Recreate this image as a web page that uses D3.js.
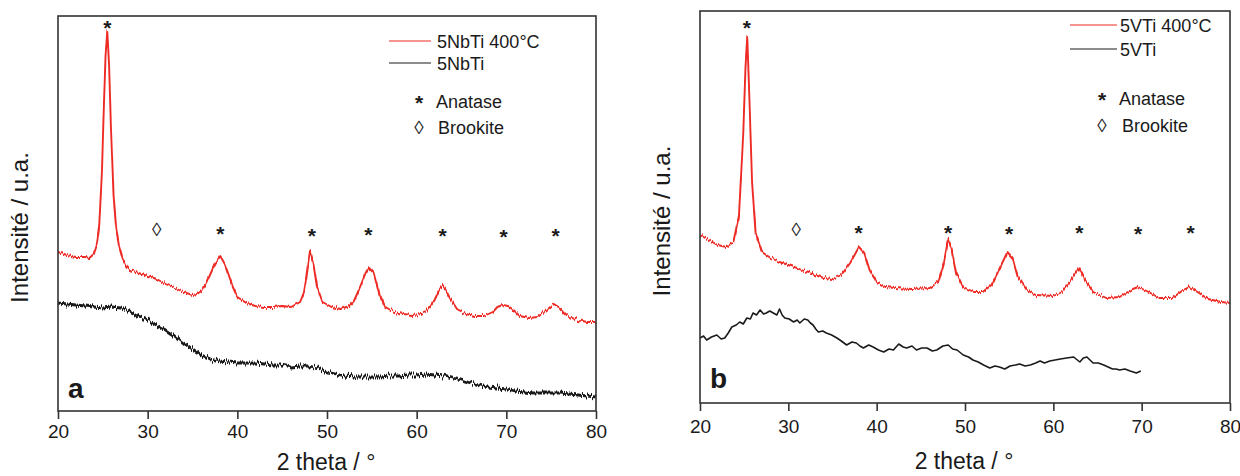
<!DOCTYPE html>
<html><head><meta charset="utf-8">
<script src="https://cdn.jsdelivr.net/npm/d3@7"></script>
<style>
body{margin:0;background:#fff}
text{font-family:"Liberation Sans",Arial,Helvetica,sans-serif;fill:#1a1a1a}
</style>
</head><body>
<svg id="c" width="1240" height="476"></svg>
<script>
// ---- data (2 theta in degrees, intensity in arbitrary units) ----
const xTicks = [20, 30, 40, 50, 60, 70, 80];

// panel a : 5NbTi 400°C (red)
const aRedX = [20,21,22,23,23.5,24,24.3,24.6,24.9,25.1,25.3,25.5,25.7,25.9,26.2,26.5,26.8,27.2,27.6,28,29,30,31,32,33,34,35,35.5,36,36.5,37,37.5,38.1,38.6,39,39.5,40,41,42,43,44,45,46,47,47.4,47.7,48.1,48.5,48.9,49.5,50.5,51.5,52.5,53,53.5,54,54.3,54.7,55.2,55.5,55.8,56.5,57.5,58.5,59.5,60.5,61,61.5,62,62.5,62.9,63.3,63.7,64.5,65.5,66.5,67.5,68.5,69,69.6,70.2,70.8,71.5,72.5,73.5,74.5,75.3,76,76.5,77,78,79,80];
const aRedY = [159,156,154,154,153,157,165,185,240,300,355,380,345,285,215,182,165,152,145,141,138,135,132,127,123,119,116,117,120,127,137,147,155,147,137,124,114,108,105,104,104,105,104,109,118,134,160,147,124,109,104,102,105,110,120,131,138,144,139,129,118,104,99,97,96,97,99,104,111,121,126,120,113,102,97,95,95,99,104,106,105,101,95,93,94,101,107,103,98,94,91,89,89];

// panel a : 5NbTi (black)
const aBlkX = [20,21,22,23,24,25,26,27,28,29,30,31,32,33,34,35,36,37,38,39,40,41,42,43,44,45,46,47,48,49,50,51,52,53,54,55,56,57,58,59,60,61,62,63,64,65,66,67,68,69,70,71,72,73,74,75,76,77,78,79,80];
const aBlkY = [108,107,106,105,104,103,104,103,100,95,91,86,81,75,68,62,56,52,50,49,48,48,48,47,46,46,44,45,45,43,39,37,35,34,34,34,34,35,35,36,36,37,36,35,33,31,28,26,24,23,22,20,19,18,18,18,18,17,16,15,14];

// panel b : 5VTi 400°C (red)
const bRedX = [20,21,22,23,23.8,24.4,24.9,25.15,25.35,25.6,25.9,26.3,27,28,29,30,31,32,33,34,35,36,37,38,38.6,39.2,40,41,42,44,46,47,47.6,48.1,48.5,49,49.8,51,52,53,54,54.8,55.4,56,57,58,60,61,62,62.9,63.6,64.5,66,67.5,69,69.6,70.8,72,73.5,74.7,75.4,76.5,77.5,79,80];
const bRedY = [168,163,158,156,161,186,270,336,366,303,220,170,151,145,141,138,135,131,128,125,124,128,140,156,150,133,121,116,115,114,115,121,140,164,153,130,116,111,111,118,136,151,145,126,113,108,107,111,123,135,123,111,105,106,114,116,111,105,105,113,116,110,104,101,100];

// panel b : 5VTi (black)
const bBlkX = [20,20.4,20.75,21.3,21.9,22.4,22.8,23.2,23.6,24.1,24.5,24.9,25.3,25.7,26.0,26.4,26.8,27.2,27.5,27.9,28.3,28.7,29.0,29.3,29.6,30.1,30.6,31.0,31.3,31.8,32.2,32.5,32.8,33.1,33.4,33.9,34.3,34.9,35.5,36.0,36.6,37.2,37.7,38.1,38.5,39.1,39.6,40.2,40.8,41.4,41.9,42.5,43.0,43.4,44.0,44.5,45.1,45.7,46.3,46.8,47.5,48.1,48.6,49.1,49.8,50.4,50.9,51.5,52.1,52.8,53.4,53.9,54.5,55.1,55.7,56.2,56.8,57.4,58.0,58.5,59.0,59.6,60.2,60.8,61.5,62.3,63.0,63.4,63.8,64.5,65.1,65.7,66.2,66.7,67.1,67.5,68.1,68.7,69.4,69.9];
const bBlkY = [65,67,63,66,68,64,65,70,76,78,81,79,85,84,90,88,93,89,90,92,90,88,94,88,85,84,81,83,80,84,83,80,78,74,71,72,70,68,65,62,58,61,60,57,55,58,56,53,51,54,53,59,56,55,57,53,55,55,52,53,57,58,54,53,48,46,43,41,38,35,37,36,34,37,38,39,37,38,40,42,40,42,43,44,45,46,41,45,46,40,40,38,36,34,34,33,34,32,30,32];

// peak markers
const aAnaX = [25.5,38.1,48.3,54.6,62.9,69.7,75.5];
const aAnaY = [388,182,180,181,180,179,180];
const aBroX = [31.0];
const aBroY = [182];
const bAnaX = [25.3,37.95,48.1,55.0,62.95,69.6,75.55];
const bAnaY = [380,175,175,174,175,174,175];
const bBroX = [30.9];
const bBroY = [174];

// ---- drawing ----
const svg = d3.select("#c");
const RED = "#ee2a24", BLK = "#1a1a1a", FRAME = "#333";

// rendering texture for the noisy detector traces (style only, data unchanged):
// vertical-only jitter of the stroke
const defs = svg.append("defs");
function grain(id, scale) {
  const f = defs.append("filter").attr("id", id)
    .attr("x", "-2%").attr("y", "-10%").attr("width", "104%").attr("height", "120%")
    .attr("color-interpolation-filters", "sRGB");
  f.append("feTurbulence").attr("type", "fractalNoise").attr("baseFrequency", "1.2 0.02")
    .attr("numOctaves", 1).attr("seed", 3).attr("result", "n0");
  f.append("feColorMatrix").attr("in", "n0").attr("type", "matrix")
    .attr("values", "1 0 0 0 0  0 0 0 0 0.5  0 0 0 0 0  0 0 0 0 1").attr("result", "n");
  f.append("feDisplacementMap").attr("in", "SourceGraphic").attr("in2", "n")
    .attr("scale", scale).attr("xChannelSelector", "G").attr("yChannelSelector", "R");
}
grain("grainR", 7);
grain("grainK", 10);

const panels = [
  {l:58, r:596, t:16, b:411, yMax:395, red:[aRedX,aRedY], blk:[aBlkX,aBlkY],
   ana:[aAnaX,aAnaY], bro:[aBroX,aBroY], names:["5NbTi 400°C","5NbTi"], tag:"a", blkGrain:true,
   leg:{lx1:389, lx2:431, tx:437, y1:41, y2:63, mx:419, tx2:436, y3:101, y4:127, tx3:438},
   tagX:68, tagY:398, tickY:438, titleY:470},
  {l:700, r:1230, t:11, b:403, yMax:392, red:[bRedX,bRedY], blk:[bBlkX,bBlkY],
   ana:[bAnaX,bAnaY], bro:[bBroX,bBroY], names:["5VTi 400°C","5VTi"], tag:"b", blkGrain:false,
   leg:{lx1:1070, lx2:1117, tx:1120, y1:25, y2:49, mx:1102, tx2:1119, y3:98, y4:125, tx3:1122},
   tagX:710, tagY:388, tickY:433, titleY:469}
];

panels.forEach(p => {
  const x = d3.scaleLinear().domain([20, 80]).range([p.l, p.r]);
  const y = d3.scaleLinear().domain([0, p.yMax]).range([p.b, p.t]);
  const g = svg.append("g");

  const line = d3.line().x(d => x(d[0])).y(d => y(d[1]));
  const zip = (xs, ys) => xs.map((v, i) => [v, ys[i]]);

  const bp = g.append("path").datum(zip(p.blk[0], p.blk[1]))
    .attr("d", line).attr("fill", "none").attr("stroke", BLK)
    .attr("stroke-width", p.blkGrain ? 2.8 : 1.6).attr("stroke-linejoin", "round");
  if (p.blkGrain) bp.attr("filter", "url(#grainK)");
  g.append("path").datum(zip(p.red[0], p.red[1]))
    .attr("d", line).attr("fill", "none").attr("stroke", RED)
    .attr("stroke-width", 1.9).attr("stroke-linejoin", "round")
    .attr("filter", "url(#grainR)");

  // frame
  g.append("rect").attr("x", p.l).attr("y", p.t).attr("width", p.r - p.l).attr("height", p.b - p.t)
    .attr("fill", "none").attr("stroke", FRAME).attr("stroke-width", 1.6);

  // x axis
  const ax = d3.axisBottom(x).tickValues(xTicks).tickSize(8).tickPadding(6).tickFormat(d3.format("d"));
  const axg = g.append("g").attr("transform", `translate(0,${p.b})`).call(ax);
  axg.select(".domain").remove();
  axg.selectAll("line").attr("stroke", FRAME).attr("stroke-width", 1.6);
  axg.selectAll("text").attr("font-size", 19).attr("fill", "#1a1a1a")
    .attr("font-family", "Liberation Sans, Arial, sans-serif")
    .attr("dy", null).attr("y", p.tickY - p.b);

  // axis titles
  g.append("text").attr("x", (p.l + p.r) / 2 - 1).attr("y", p.titleY)
    .attr("text-anchor", "middle").attr("font-size", 23).text("2 theta / °");
  const yc = (p.t + p.b) / 2 + 14;
  g.append("text").attr("transform", `translate(${p.l - 30},${yc}) rotate(-90)`)
    .attr("text-anchor", "middle").attr("font-size", 24).text("Intensité / u.a.");

  // peak markers
  g.selectAll(".ana").data(zip(p.ana[0], p.ana[1])).join("text")
    .attr("x", d => x(d[0])).attr("y", d => y(d[1]) + 12)
    .attr("text-anchor", "middle").attr("font-size", 21).attr("font-weight", "bold").text("*");
  g.selectAll(".bro").data(zip(p.bro[0], p.bro[1])).join("text")
    .attr("x", d => x(d[0])).attr("y", d => y(d[1]) + 7)
    .attr("text-anchor", "middle").attr("font-size", 19).text("◊");

  // legend
  const L = p.leg;
  g.append("line").attr("x1", L.lx1).attr("x2", L.lx2).attr("y1", L.y1).attr("y2", L.y1)
    .attr("stroke", RED).attr("stroke-width", 1.2);
  g.append("text").attr("x", L.tx).attr("y", L.y1 + 6.5).attr("font-size", 18).text(p.names[0]);
  g.append("line").attr("x1", L.lx1).attr("x2", L.lx2).attr("y1", L.y2).attr("y2", L.y2)
    .attr("stroke", BLK).attr("stroke-width", 1.2);
  g.append("text").attr("x", L.tx).attr("y", L.y2 + 6.5).attr("font-size", 18).text(p.names[1]);
  g.append("text").attr("x", L.mx).attr("y", L.y3 + 9).attr("text-anchor", "middle")
    .attr("font-size", 21).attr("font-weight", "bold").text("*");
  g.append("text").attr("x", L.tx2).attr("y", L.y3 + 6.5).attr("font-size", 18).text("Anatase");
  g.append("text").attr("x", L.mx).attr("y", L.y4 + 7).attr("text-anchor", "middle")
    .attr("font-size", 19).text("◊");
  g.append("text").attr("x", L.tx3).attr("y", L.y4 + 6.5).attr("font-size", 18).text("Brookite");

  // panel tag
  g.append("text").attr("x", p.tagX).attr("y", p.tagY).attr("font-size", 28)
    .attr("font-weight", "bold").text(p.tag);
});
</script>
</body></html>
